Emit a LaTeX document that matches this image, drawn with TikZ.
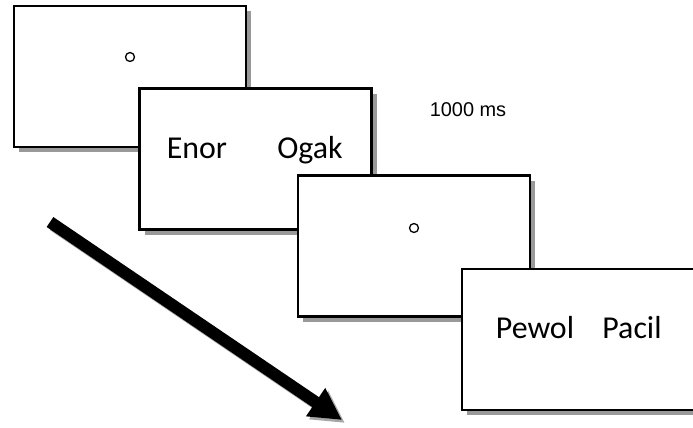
\documentclass[tikz,border=0pt]{standalone}
\usepackage{fontspec}
\setmainfont{Carlito}
\newfontfamily\arialfont{Liberation Sans}
\usetikzlibrary{shadows,arrows.meta}

\tikzset{
  screen/.style={draw, line width=2.2pt, fill=white, minimum width=232bp, minimum height=141bp, inner sep=0pt,
    drop shadow={shadow xshift=5.5pt, shadow yshift=-5.5pt, fill=black!40, opacity=1}},
  word/.style={anchor=base, font=\fontsize{32}{38}\selectfont},
  fixdot/.style={draw, circle, line width=1.3pt, minimum size=9pt, inner sep=0pt},
  bigarrow/.style={line width=12pt, -{Triangle[length=32pt, width=32pt]}},
}

\begin{document}
\begin{tikzpicture}[x=1bp, y=-1bp]
\fill[white] (0,0) rectangle (693,427);
\useasboundingbox (0,0) rectangle (693,427);
% screens
\node[screen] (scr1) at (130,76.5) {};
\node[fixdot] (dot1) at (130,57) {};
\node[screen] (scr2) at (255.5,159) {};
\node[word] (enor) at (197,158) {Enor};
\node[word] (ogak) at (310,158) {Ogak};
\node[screen] (scr3) at (414,246) {};
\node[fixdot] (dot2) at (414,228) {};
\node[screen, minimum width=260bp] (scr4) at (592,339.5) {};
\node[word] (pewol) at (535,338) {Pewol};
\node[word] (pacil) at (632,338) {Pacil};
\node[anchor=base, font=\arialfont\fontsize{20}{24}\selectfont] (dur) at (468,116) {1000 ms};
% time arrow
\coordinate (tstart) at (50,222);
\coordinate (tend) at (342,420);
\draw[bigarrow, black!35] ([xshift=3pt,yshift=-3pt]tstart) -- ([xshift=3pt,yshift=-3pt]tend);
\draw[bigarrow] (tstart) -- (tend);
\end{tikzpicture}
\end{document}
